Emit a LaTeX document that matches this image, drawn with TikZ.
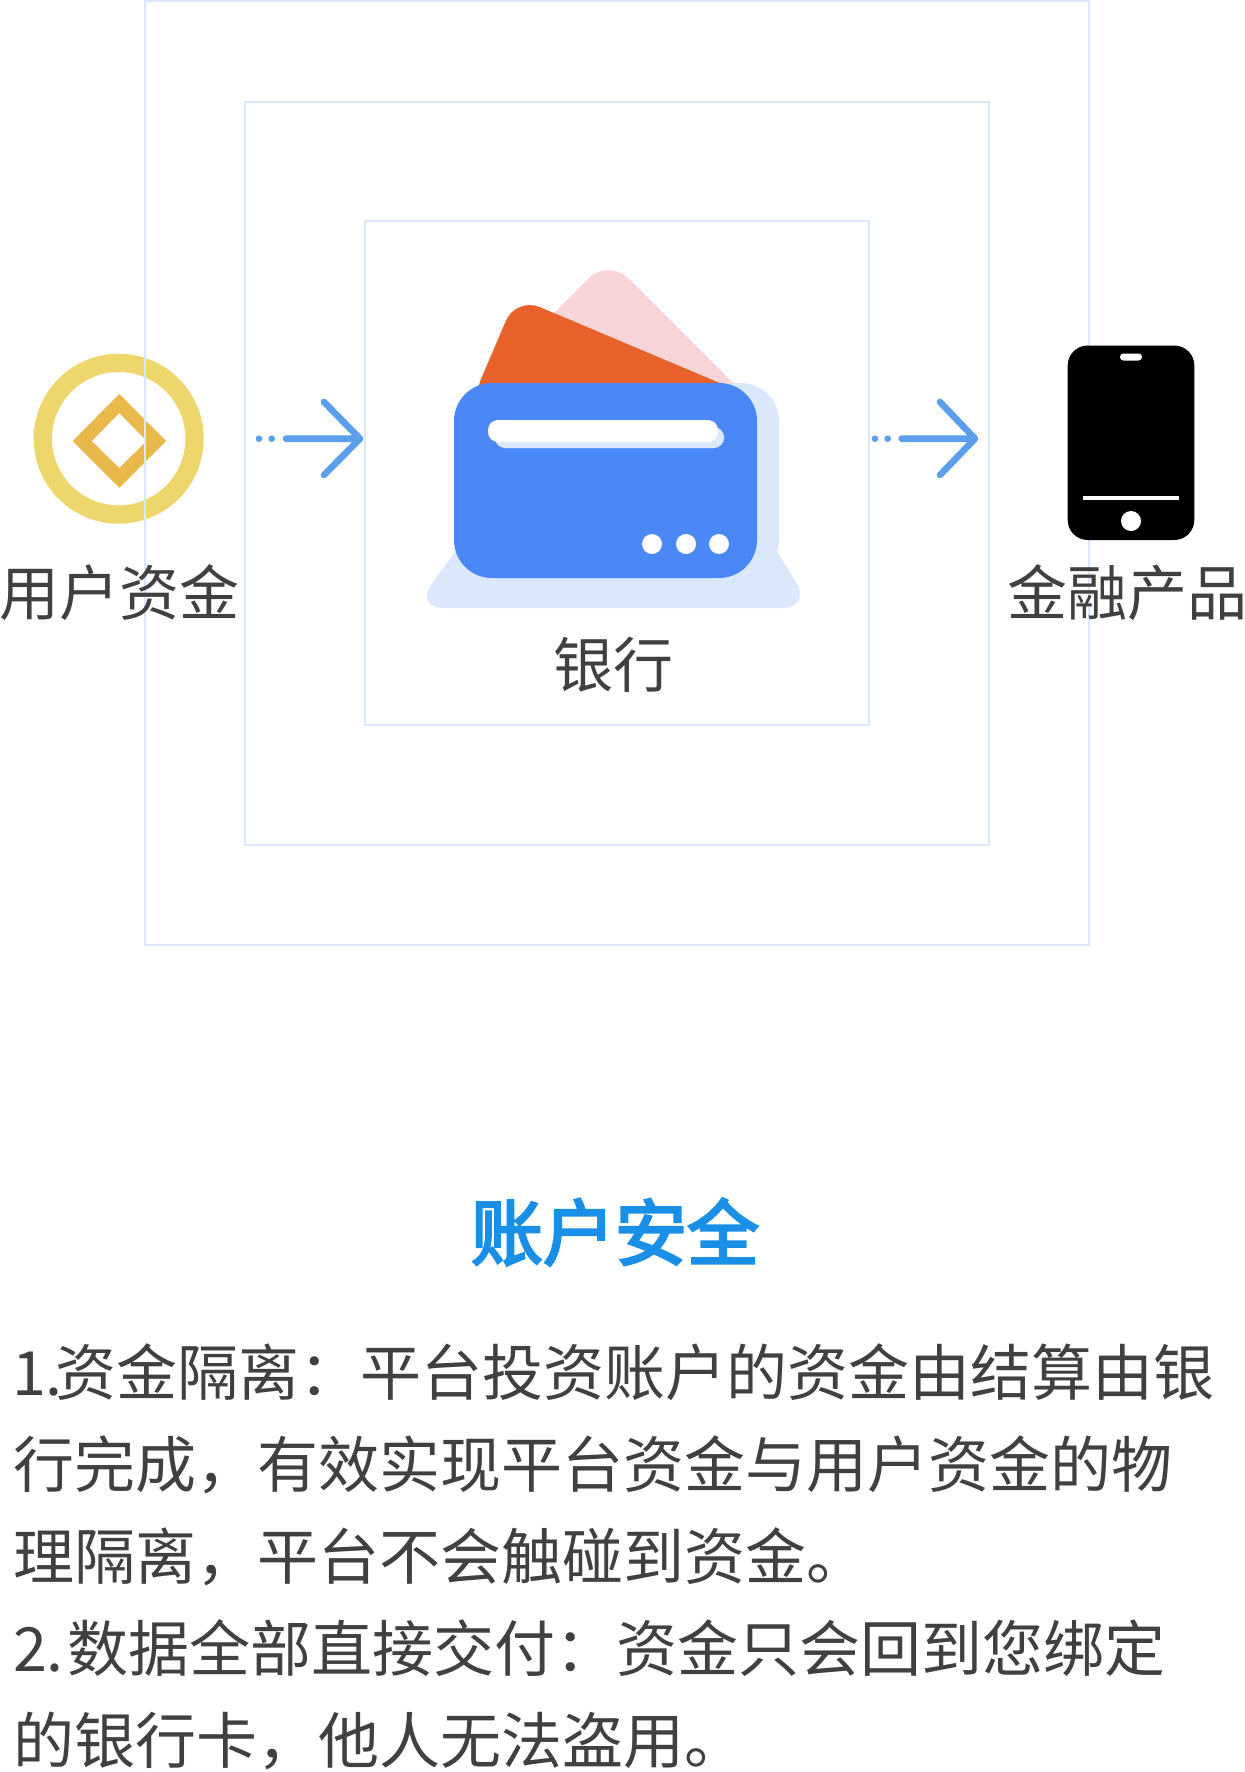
\documentclass[tikz,border=0pt]{standalone}
\usepackage{fontspec}
\setmainfont{Noto Sans CJK SC}
\newfontfamily\cjkreg{Noto Sans CJK SC}
\newfontfamily\cjktitle[FakeBold=3.5]{Noto Sans CJK SC}
\definecolor{boxline}{HTML}{D9E6FB}
\definecolor{cardblue}{HTML}{4A88F7}
\definecolor{paleblue}{HTML}{DBE8FC}
\definecolor{cardorange}{HTML}{E9622B}
\definecolor{cardpink}{HTML}{F8D5D9}
\definecolor{coinring}{HTML}{EDD76D}
\definecolor{coindia}{HTML}{E8B84A}
\definecolor{arrowblue}{HTML}{5A9EEC}
\definecolor{titleblue}{HTML}{1A8FE8}
\definecolor{bodytext}{HTML}{404040}
\tikzset{
  x=0.5pt,y=-0.5pt,
  framebox/.style={draw=boxline,line width=1.2pt},
  flowline/.style={draw=arrowblue,line width=3.3pt,line cap=round,line join=round},
  flowdot/.style={fill=arrowblue},
  label60/.style={inner sep=0pt,outer sep=0pt,text=bodytext,font=\cjkreg\fontsize{30}{30}\selectfont},
  bodyline/.style={anchor=base west,inner sep=0pt,outer sep=0pt,text=bodytext,font=\cjkreg\fontsize{30.5}{30.5}\selectfont},
  titletext/.style={inner sep=0pt,outer sep=0pt,text=titleblue,font=\cjktitle\fontsize{36}{36}\selectfont},
}
\begin{document}
\begin{tikzpicture}
\useasboundingbox (0,0) rectangle (1244,1772);
% coin
\fill[coinring,even odd rule] (118.7,438.7) circle[radius=85] (118.7,438.7) circle[radius=66.7];
\fill[coindia,even odd rule] (72.7,441)--(119.3,394)--(166,441)--(119.3,487.7)--cycle
  (91.7,441)--(119.3,413)--(146.7,441)--(119.3,468)--cycle;
% frames
\draw[framebox] (145,1) rectangle (1089,945);
\draw[framebox] (245,102) rectangle (989,845);
\draw[framebox] (365,221) rectangle (869,725);
% card icon
\fill[paleblue,rounded corners=15pt] (414,608)--(493,500)--(745,500)--(812,608)--cycle;
\fill[paleblue,rounded corners=19pt] (476,383) rectangle (779,578);
\begin{scope}
\clip (400,240) rectangle (800,383.5);
\fill[cardpink,rounded corners=14pt] (480,387)--(608.5,258.5)--(760,410)--(480,410)--cycle;
\end{scope}
\fill[cardorange,rounded corners=13pt] (470,405)--(516,297)--(760,400)--cycle;
\fill[cardblue,rounded corners=19pt] (454,383) rectangle (757,578);
\fill[paleblue,rounded corners=5pt] (495,427) rectangle (724,448);
\fill[white,rounded corners=5pt] (488,420) rectangle (718,442);
\fill[white] (652,544) circle[radius=10] (686,544) circle[radius=10] (719,544) circle[radius=10];
% phone
\fill[black,rounded corners=10pt] (1067.7,345.5) rectangle (1194.3,540);
\fill[white,rounded corners=1.7pt] (1120,353.5) rectangle (1142,360.5);
\fill[white] (1083,496) rectangle (1179,500);
\fill[white] (1131,521) circle[radius=10];
% anchors
\coordinate (a1s) at (286,438.7);
\coordinate (a1t) at (360,438.7);
\coordinate (a1u) at (324,402);
\coordinate (a1d) at (324,475);
\coordinate (a2s) at (901.7,438.7);
\coordinate (a2t) at (975,438.7);
\coordinate (a2u) at (940,402);
\coordinate (a2d) at (940,475);
% arrows
\fill[flowdot] (259,438.7) circle[radius=3.3] (271.7,438.7) circle[radius=3.3];
\draw[flowline] (a1s)--(a1t) (a1u)--(a1t)--(a1d);
\fill[flowdot] (875,438.7) circle[radius=3.3] (887.7,438.7) circle[radius=3.3];
\draw[flowline] (a2s)--(a2t) (a2u)--(a2t)--(a2d);
% labels
\node[label60] (user) at (119,593) {用户资金};
\node[label60] (bank) at (613,665) {银行};
\node[label60] (prod) at (1127,593) {金融产品};
\node[titletext] (title) at (615,1232) {账户安全};
\node[bodyline] (l1) at (12,1395) {1.\kern-3.5pt 资金隔离：平台投资账户的资金由结算由银};
\node[bodyline] (l2) at (13,1487) {行完成，有效实现平台资金与用户资金的物};
\node[bodyline] (l3) at (13,1579) {理隔离，平台不会触碰到资金。};
\node[bodyline] (l4) at (13,1671) {2.\kern2pt 数据全部直接交付：资金只会回到您绑定};
\node[bodyline] (l5) at (13,1763) {的银行卡，他人无法盗用。};
\end{tikzpicture}
\end{document}
